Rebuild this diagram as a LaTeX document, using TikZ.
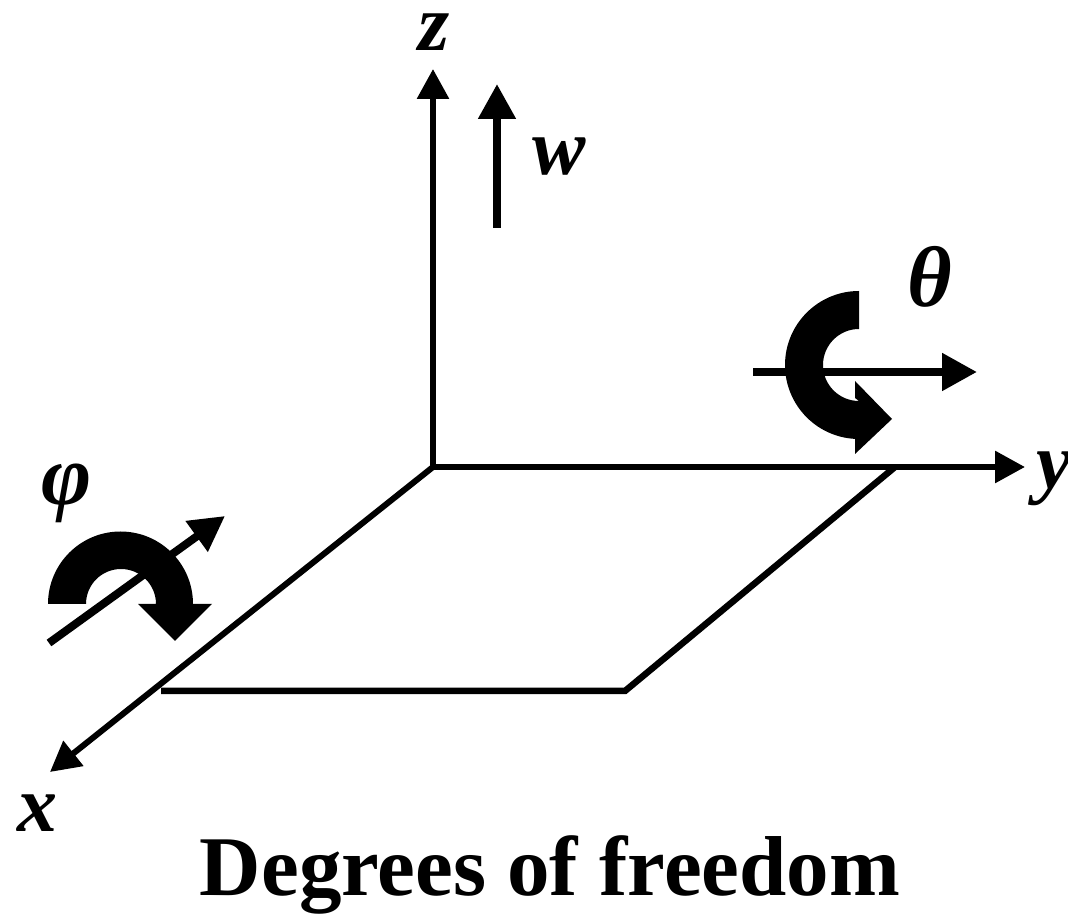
\documentclass[tikz,border=0pt]{standalone}
\usepackage{fontspec}
\setmainfont{Liberation Serif}
\usetikzlibrary{arrows.meta}

\begin{document}
\begin{tikzpicture}[
  x=1pt,y=1pt,
  axis/.style={-{Triangle[length=30pt,width=31pt]}, line width=6pt},
  dof/.style={-{Triangle[length=35pt,width=36pt]}, line width=8pt},
  edge/.style={line width=6.5pt},
  turn/.style={fill=black, draw=none},
  lab/.style={inner sep=0pt, font=\fontsize{80}{90}\selectfont\bfseries\itshape},
  greek/.style={inner sep=0pt, font=\fontsize{86}{96}\selectfont\bfseries\itshape}
]
\useasboundingbox (0,0) rectangle (1068,913);
\coordinate (origin) at (433,446);
\coordinate (ztop) at (433,844);
\coordinate (yend) at (1025,446);
\coordinate (xend) at (50,141);
\coordinate (corner1) at (895,446);
\coordinate (corner2) at (625,222);
\coordinate (corner3) at (161,222);
\coordinate (wstart) at (497,685);
\coordinate (wend) at (497,829);
\coordinate (tstart) at (753,541);
\coordinate (tend) at (977,541);
\coordinate (pstart) at (49,270);
\coordinate (pend) at (225,397);
\foreach \x in {ztop,yend,xend}{\draw[axis] (origin) -- (\x);}
\draw[edge] (corner1) -- (corner2) -- (corner3);
\draw[dof] (wstart) -- (wend);
\draw[dof] (tstart) -- (tend);
\draw[dof] (pstart) -- (pend);
% rotation about y
\fill[turn] (859,622) arc (90:270:74) -- (855,474) -- (855,459) -- (892,494) -- (855,532) -- (855,515) -- (859,512) arc (270:90:36) -- cycle;
% rotation about x
\fill[turn] (48,309) arc (180:0:72.5) -- (212,309) -- (175,272) -- (138,309) -- (156,309) arc (0:180:35) -- cycle;
\node[lab] (zlabel) at (434,881) {z};
\node[lab] (wlabel) at (559,756) {w};
\node[lab] (xlabel) at (37,100) {x};
\node[lab,anchor=west] (ylabel) at (1036,434) {y};
\node[greek] (thetalabel) at (930,636) {θ};
\node[greek] (philabel) at (67,420) {φ};
\node[inner sep=0pt, anchor=base, font=\fontsize{85}{96}\selectfont\bfseries] (title) at (550,18) {Degrees of freedom};
\end{tikzpicture}
\end{document}
